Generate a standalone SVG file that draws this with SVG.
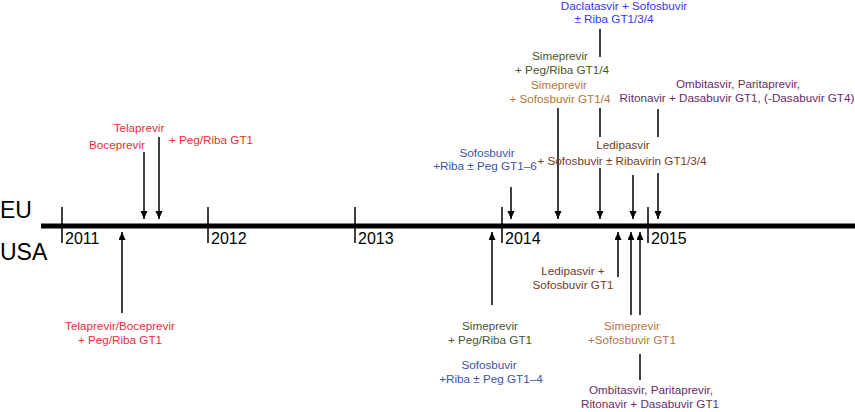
<svg xmlns="http://www.w3.org/2000/svg" width="855" height="412" viewBox="0 0 855 412">
<style>
text{font-family:"Liberation Sans",Arial,sans-serif;font-size:11.7px;text-anchor:middle}
.yr{font-size:16px;text-anchor:start;fill:#000}
.reg{font-size:23px;text-anchor:start;fill:#000}
.red{fill:#e2303a}.dbl{fill:#3a35ee}.grn{fill:#44582a}.org{fill:#b5743f}.brn{fill:#783a1c}.pur{fill:#6a2a6c}.blu{fill:#4053a6}
.ln{stroke:#000;stroke-width:1.5;fill:none}
.ar{stroke:#000;stroke-width:1.5;fill:none;marker-end:url(#ah)}
</style>
<defs>
<marker id="ah" markerUnits="userSpaceOnUse" markerWidth="8" markerHeight="8" refX="8" refY="3.5" orient="auto"><path d="M0,0 L8,3.5 L0,7 z" fill="#000"/></marker>
</defs>
<g id="axis">
<line x1="41" y1="226" x2="855" y2="226" stroke="#000" stroke-width="5"/>
<path class="ln" d="M62,207V243M208,207V243M355,207V243M502,207V243M648,207V243"/>
<text class="reg" x="0" y="218">EU</text>
<text class="reg" x="0" y="260">USA</text>
<text class="yr" x="65" y="244">2011</text>
<text class="yr" x="211" y="244">2012</text>
<text class="yr" x="358" y="244">2013</text>
<text class="yr" x="505" y="244">2014</text>
<text class="yr" x="651" y="244">2015</text>
</g>
<g id="connectors">
<path class="ar" d="M144,152V219"/>
<path class="ar" d="M159,137V219"/>
<path class="ar" d="M511,187V219"/>
<path class="ar" d="M558,108V219"/>
<path class="ln" d="M600,29V57M600,108V137"/>
<path class="ar" d="M600,168V219"/>
<path class="ar" d="M633,175V219"/>
<path class="ln" d="M658,109V137"/>
<path class="ar" d="M658,173V219"/>
<path class="ar" d="M122,313V232"/>
<path class="ar" d="M492,305V232"/>
<path class="ar" d="M618,277V232"/>
<path class="ar" d="M631,315V232"/>
<path class="ar" d="M640,315V232"/>
<path class="ln" d="M640,354V380"/>
</g>
<g id="eu-telaprevir"><text class="red" x="139" y="132">Telaprevir</text><text class="red" x="211" y="144">+ Peg/Riba GT1</text></g>
<g id="eu-boceprevir"><text class="red" x="117" y="149">Boceprevir</text></g>
<g id="eu-sofosbuvir"><text class="blu" x="487" y="157">Sofosbuvir</text><text class="blu" x="485" y="170">+Riba ± Peg GT1–6</text></g>
<g id="eu-daclatasvir"><text class="dbl" x="624" y="10">Daclatasvir + Sofosbuvir</text><text class="dbl" x="614" y="23">± Riba GT1/3/4</text></g>
<g id="eu-simeprevir-peg"><text class="grn" x="560" y="60">Simeprevir</text><text class="grn" x="562" y="74">+ Peg/Riba GT1/4</text></g>
<g id="eu-simeprevir-sof"><text class="org" x="559" y="89">Simeprevir</text><text class="org" x="560" y="103">+ Sofosbuvir GT1/4</text></g>
<g id="eu-ombitasvir"><text class="pur" x="738" y="88">Ombitasvir, Paritaprevir,</text><text class="pur" x="737" y="102">Ritonavir + Dasabuvir GT1, (-Dasabuvir GT4)</text></g>
<g id="eu-ledipasvir"><text class="brn" x="623" y="149">Ledipasvir</text><text class="brn" x="622" y="165">+ Sofosbuvir ± Ribavirin GT1/3/4</text></g>
<g id="us-telaprevir"><text class="red" x="120" y="330">Telaprevir/Boceprevir</text><text class="red" x="120" y="344">+ Peg/Riba GT1</text></g>
<g id="us-ledipasvir"><text class="brn" x="573" y="275">Ledipasvir +</text><text class="brn" x="573" y="289">Sofosbuvir GT1</text></g>
<g id="us-simeprevir-peg"><text class="grn" x="490" y="330">Simeprevir</text><text class="grn" x="490" y="344">+ Peg/Riba GT1</text></g>
<g id="us-sofosbuvir"><text class="blu" x="489" y="369">Sofosbuvir</text><text class="blu" x="491" y="383">+Riba ± Peg GT1–4</text></g>
<g id="us-simeprevir-sof"><text class="org" x="632" y="330">Simeprevir</text><text class="org" x="632" y="344">+Sofosbuvir GT1</text></g>
<g id="us-ombitasvir"><text class="pur" x="651" y="394">Ombitasvir, Paritaprevir,</text><text class="pur" x="650" y="408">Ritonavir + Dasabuvir GT1</text></g>
</svg>
